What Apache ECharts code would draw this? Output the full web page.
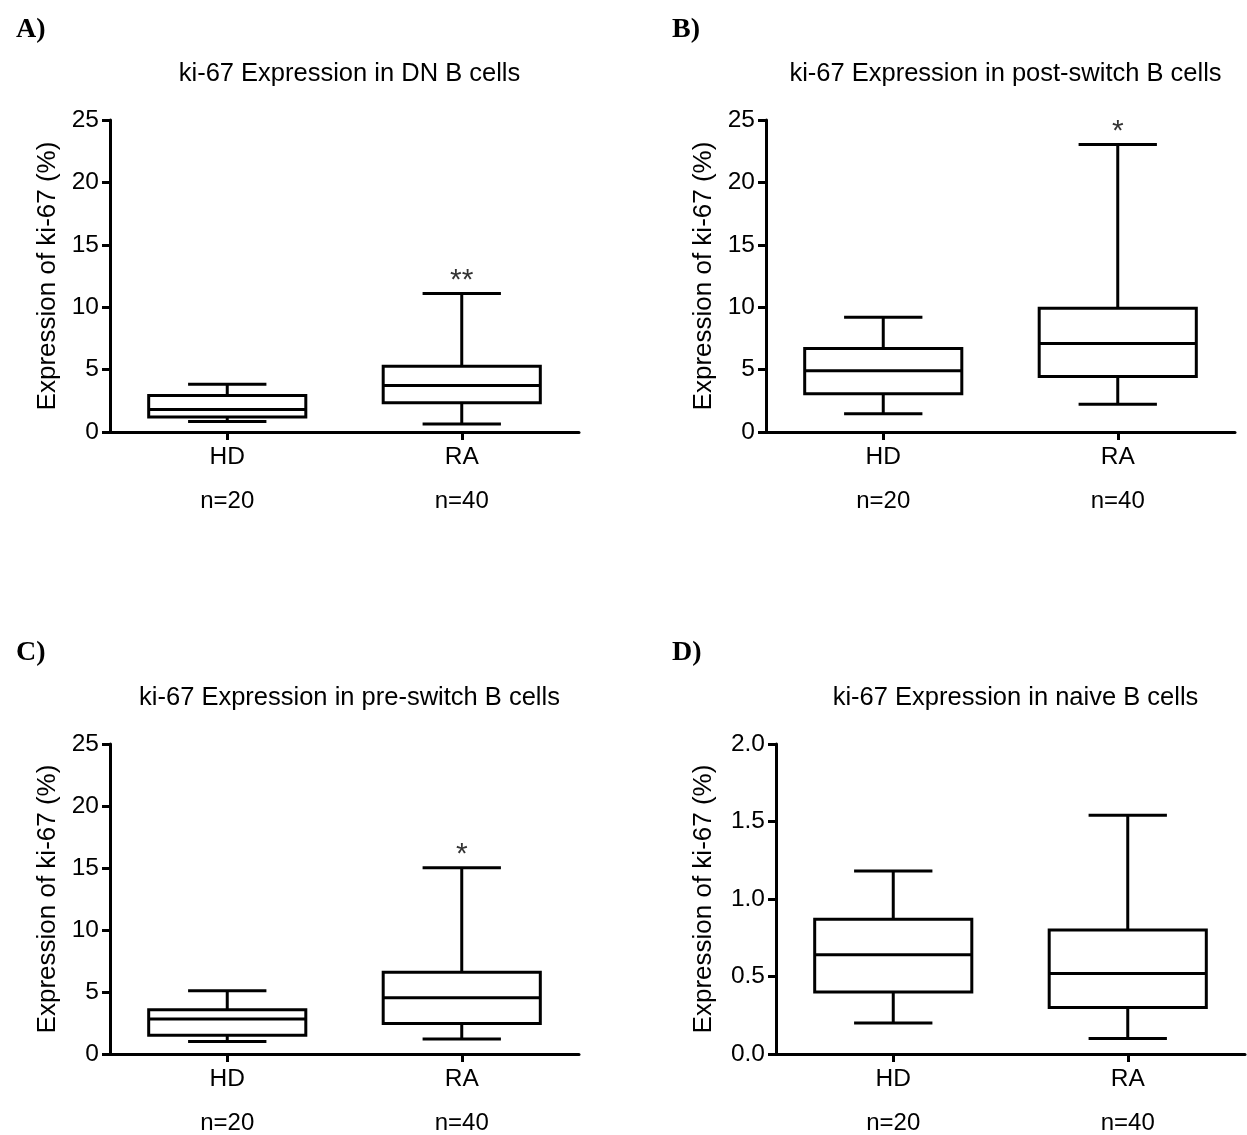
<!DOCTYPE html>
<html>
<head>
<meta charset="utf-8">
<title>ki-67 Expression in B cell subsets</title>
<script src="https://cdn.jsdelivr.net/npm/echarts@6/dist/echarts.min.js"></script>
<style>
  html, body { margin: 0; padding: 0; background: #fff; }
  #chart { width: 1247px; height: 1135px; }
</style>
</head>
<body>
<div id="chart"></div>
<script>
// Panel headings
const panelLetters = ['A)', 'B)', 'C)', 'D)'];
const panelTitles = [
  'ki-67 Expression in DN B cells',
  'ki-67 Expression in post-switch B cells',
  'ki-67 Expression in pre-switch B cells',
  'ki-67 Expression in naive B cells'
];
const yAxisTitle = 'Expression of ki-67 (%)';

// Groups on the x axis and their sample sizes
const groups = ['HD', 'RA'];
const sampleSizes = ['n=20', 'n=40'];

// Box summaries per group: [min, Q1, median, Q3, max] (% ki-67+)
const dnCells = [
  [0.85, 1.2, 1.81, 2.92, 3.83],
  [0.64, 2.34, 3.72, 5.27, 11.09]
];
const postSwitchCells = [
  [1.46, 3.06, 4.9, 6.7, 9.2],
  [2.23, 4.44, 7.1, 9.92, 23.03]
];
const preSwitchCells = [
  [1.01, 1.52, 2.82, 3.57, 5.11],
  [1.2, 2.45, 4.53, 6.6, 15.02]
];
const naiveCells = [
  [0.2, 0.4, 0.64, 0.87, 1.18],
  [0.1, 0.3, 0.52, 0.8, 1.54]
];

// Significance marks shown above the RA box
const significance = ['**', '*', '*', ''];

// Value axis ranges and tick steps
const yMax = [25, 25, 25, 2];
const yStep = [5, 5, 5, 0.5];
const yDecimals = [0, 0, 0, 1];

const panelData = [dnCells, postSwitchCells, preSwitchCells, naiveCells];

// Plot areas (left, top, width, height in px)
const gridBoxes = [
  { left: 110, top: 120, width: 469, height: 312 },
  { left: 766, top: 120, width: 469, height: 312 },
  { left: 110, top: 744, width: 469, height: 312 },
  { left: 776, top: 744, width: 469, height: 312 }
];
// distance from the value axis to its name (wider labels on the decimal axis)
const nameGaps = [49, 49, 49, 59];

const FONT = 'Liberation Sans, Arial, sans-serif';
const INK = '#000';

function renderBox(params, api) {
  const ci = api.value(0);
  const lo = api.coord([ci, api.value(1)]);
  const q1 = api.coord([ci, api.value(2)]);
  const md = api.coord([ci, api.value(3)]);
  const q3 = api.coord([ci, api.value(4)]);
  const hi = api.coord([ci, api.value(5)]);
  const band = api.size([1, 0])[0];
  const x = lo[0];
  const hb = band * 0.335;   // half box width
  const hc = band * 0.167;   // half whisker cap width
  const line = { stroke: INK, lineWidth: 3 };
  return {
    type: 'group',
    children: [
      { type: 'line', shape: { x1: x, y1: hi[1], x2: x, y2: q3[1] }, style: line },
      { type: 'line', shape: { x1: x, y1: q1[1], x2: x, y2: lo[1] }, style: line },
      { type: 'line', shape: { x1: x - hc, y1: hi[1], x2: x + hc, y2: hi[1] }, style: line },
      { type: 'line', shape: { x1: x - hc, y1: lo[1], x2: x + hc, y2: lo[1] }, style: line },
      { type: 'rect', shape: { x: x - hb, y: q3[1], width: 2 * hb, height: q1[1] - q3[1] },
        style: { stroke: INK, lineWidth: 3, fill: '#fff' } },
      { type: 'line', shape: { x1: x - hb, y1: md[1], x2: x + hb, y2: md[1] }, style: line }
    ]
  };
}

const grid = [], xAxis = [], yAxis = [], series = [], title = [];

gridBoxes.forEach(function (g, p) {
  grid.push(Object.assign({ containLabel: false }, g));

  // panel letter
  title.push({
    text: panelLetters[p],
    left: p % 2 === 0 ? 11 : 667,
    top: p < 2 ? 11 : 634,
    textStyle: { fontFamily: 'Liberation Serif, Times New Roman, serif', fontWeight: 'bold', fontSize: 28, color: INK }
  });
  // panel heading
  title.push({
    text: panelTitles[p],
    left: g.left + g.width / 2,
    textAlign: 'center',
    top: g.top - 64,
    textStyle: { fontFamily: FONT, fontWeight: 'normal', fontSize: 25.5, color: INK }
  });

  // group axis
  xAxis.push({
    type: 'category',
    gridIndex: p,
    data: groups,
    position: 'bottom',
    axisLine: { show: true, onZero: false, lineStyle: { color: INK, width: 3 } },
    axisTick: { show: true, alignWithLabel: true, length: 8, lineStyle: { color: INK, width: 3 } },
    axisLabel: { margin: 13, fontFamily: FONT, fontSize: 24.5, color: INK },
    splitLine: { show: false }
  });
  // sample size row under the groups
  xAxis.push({
    type: 'category',
    gridIndex: p,
    data: groups,
    position: 'bottom',
    offset: 44,
    axisLine: { show: false },
    axisTick: { show: false },
    axisLabel: {
      margin: 13, fontFamily: FONT, fontSize: 24, color: INK,
      formatter: function (v, i) { return sampleSizes[i]; }
    },
    splitLine: { show: false }
  });

  yAxis.push({
    type: 'value',
    gridIndex: p,
    min: 0,
    max: yMax[p],
    interval: yStep[p],
    name: yAxisTitle,
    nameLocation: 'middle',
    nameGap: nameGaps[p],
    nameTextStyle: { fontFamily: FONT, fontSize: 26, color: INK },
    axisLine: { show: true, lineStyle: { color: INK, width: 3 } },
    axisTick: { show: true, length: 8, lineStyle: { color: INK, width: 3 } },
    axisLabel: {
      margin: 11, fontFamily: FONT, fontSize: 24.5, color: INK,
      formatter: function (v) { return v.toFixed(yDecimals[p]); }
    },
    splitLine: { show: false }
  });

  const boxes = panelData[p].map(function (s, i) { return [i].concat(s); });
  series.push({
    type: 'custom',
    xAxisIndex: 2 * p,
    yAxisIndex: p,
    renderItem: renderBox,
    encode: { x: 0, y: [1, 2, 3, 4, 5] },
    data: boxes,
    silent: true,
    z: 3
  });

  if (significance[p]) {
    const ra = panelData[p][1];
    series.push({
      type: 'scatter',
      xAxisIndex: 2 * p,
      yAxisIndex: p,
      symbolSize: 0,
      silent: true,
      data: [[groups[1], ra[4]]],
      label: {
        show: true,
        position: 'top',
        distance: -2,
        formatter: significance[p],
        fontFamily: FONT,
        fontSize: 30,
        color: INK
      },
      z: 4
    });
  }
});

const chart = echarts.init(document.getElementById('chart'), null, { renderer: 'canvas' });
chart.setOption({
  animation: false,
  backgroundColor: '#fff',
  title: title,
  grid: grid,
  xAxis: xAxis,
  yAxis: yAxis,
  series: series
});
</script>
</body>
</html>
